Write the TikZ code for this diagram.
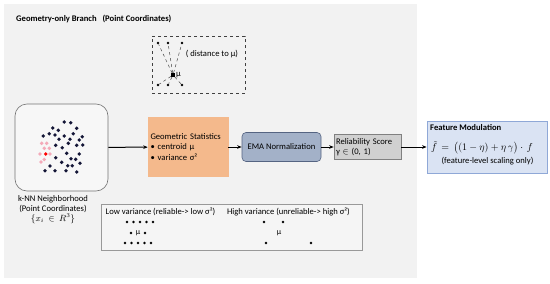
\documentclass[tikz,border=0pt]{standalone}
\usepackage{fontspec}
\setmainfont{Carlito}
\usetikzlibrary{arrows.meta, positioning}
\definecolor{gbpanel}{RGB}{242,242,242}
\definecolor{gbgeo}{RGB}{244,185,140}
\definecolor{gbema}{RGB}{163,177,200}
\definecolor{gbemaline}{RGB}{85,100,130}
\definecolor{gbrel}{RGB}{208,208,208}
\definecolor{gbfeat}{RGB}{218,227,243}
\definecolor{gbfeatline}{RGB}{143,168,215}
\definecolor{gbdot}{RGB}{20,22,55}
\definecolor{gbpink}{RGB}{244,170,185}

\begin{document}
\begin{tikzpicture}[
    x=1pt, y=-1pt,
    >={Stealth[length=4.5pt, width=3.6pt]},
    font=\fontsize{8.6}{10.5}\selectfont,
    %% ── node styles ──────────────────────────────────────────────────────────
    stagebox/.style={
        rectangle, draw=#1, line width=0.6pt, inner sep=0pt
    },
    dot/.style={
        circle, fill=#1, inner sep=0pt, minimum size=2.8pt
    },
    cdot/.style={
        circle, fill=gbdot, inner sep=0pt, minimum size=3.8pt
    },
    %% ── edge styles ──────────────────────────────────────────────────────────
    flow/.style={
        ->, draw=black, line width=1pt
    },
    distline/.style={
        draw=black!70, dashed, line width=0.5pt
    },
]

\useasboundingbox (0,0) rectangle (550,284);

%% ── Branch panel ────────────────────────────────────────────────────────────
\fill[gbpanel] (4,4) rectangle (417,278);
\node[font=\fontsize{8.6}{10.5}\selectfont\bfseries, anchor=west, inner sep=0pt]
    (title) at (16,19) {Geometry-only Branch \ \ (Point Coordinates)};

%% ─────────────────────────────────────────────────────────────────────────────
%% Distance sketch (dashed inset)
%% ─────────────────────────────────────────────────────────────────────────────
\node[draw=black!75, dashed, line width=0.6pt, minimum width=93pt,
      minimum height=57pt] (distbox) at (198.5,64.5) {};

\node[rectangle, fill=black, inner sep=0pt, minimum size=3.8pt] (cen) at (173,75) {};
\node[anchor=west, inner sep=1pt] (cenlbl) at (175,75) {μ};

\node[dot=black] (q1) at (158,43) {};
\node[dot=black] (q2) at (168,43) {};
\node[dot=black] (q3) at (182,43) {};
\node[dot=black] (q4) at (158,85) {};
\node[dot=black] (q5) at (168,85) {};
\node[dot=black] (q6) at (182,85) {};

\draw[distline] (cen) -- (q1);
\draw[distline] (cen) -- (q2);
\draw[distline] (cen) -- (q3);
\draw[distline] (cen) -- (q4);
\draw[distline] (cen) -- (q5);
\draw[distline] (cen) -- (q6);

\node[inner sep=0pt] (distlbl) at (212,54) {( distance to μ)};

%% ─────────────────────────────────────────────────────────────────────────────
%% Main pipeline
%% ─────────────────────────────────────────────────────────────────────────────
\node[draw=black!55, fill=white!97!black, line width=0.6pt, rounded corners=12pt,
      minimum width=93pt, minimum height=87pt] (nbhd) at (61.5,147.5) {};

%% neighbour cloud
\foreach \px/\py in {64.3/122,70.7/122.7,52.7/128,58.3/130.3,76.7/128.3,
    43.3/136,49.3/133.7,55/135,64.3/136,73.3/133.7,82.3/136.7,
    59/139.3,70/139.3,79.3/140,55.7/145.3,62.3/147.7,68.3/143.3,
    76.7/145.3,82.7/145,66.7/153.3,79.3/154,55.7/157.7,61.7/162.3,
    71/158.7,75.7/159.3,50/166,67.7/165.7,72.3/165.7,80/163.3,
    45/170.7,55/170.7,66/170.7,76.7/172}
    \node[cdot] at (\px,\py) {};
\foreach \px/\py in {41.7/143.3,46.7/143.3,44.3/148.3,49.3/148.3,
    40/154,50/154,41/162,44.3/159.5}
    \node[cdot, fill=gbpink] at (\px,\py) {};
\node[cdot, fill=red] (query) at (45.7,154) {};

\node[align=center, inner sep=0pt, font=\fontsize{8.6}{10}\selectfont] (nbhdlbl)
    at (53,209.5) {k-NN Neighborhood\\(Point Coordinates)\\$\{x_i\ \in\ R^3\}$};

\node[stagebox=gbgeo, fill=gbgeo, minimum width=80pt, minimum height=59pt,
      text width=75pt, align=left] (geo) at (188,147)
    {Geometric Statistics\\• centroid μ\\• variance σ²};

\node[stagebox=gbemaline, fill=gbema, rounded corners=4pt,
      minimum width=79pt, minimum height=29pt] (ema) at (281.5,147)
    {EMA Normalization};

\node[stagebox=black!50, fill=gbrel, minimum width=67pt, minimum height=25pt,
      text width=63pt, align=left, font=\fontsize{8.6}{10}\selectfont] (rel)
    at (367.5,147) {Reliability Score\\γ $\in$ (0, 1)};

\node[stagebox=gbfeatline, fill=gbfeat, line width=0.8pt,
      minimum width=120pt, minimum height=52pt] (featmod) at (487,147) {};
\node[font=\fontsize{8.6}{10.5}\selectfont\bfseries, anchor=west, inner sep=0pt]
    (feattitle) at (430,128) {Feature Modulation};
\node[font=\fontsize{10}{11}\selectfont, inner sep=0pt] (featformula) at (482,148)
    {$\tilde f\,=\,\bigl((1-\eta)+\eta\,\gamma\bigr)\cdot\,f$};
\node[inner sep=0pt] (featnote) at (487.5,161.5) {(feature-level scaling only)};

\draw[flow] (nbhd) -- (geo);
\draw[flow] (geo) -- (ema);
\draw[flow] (ema) -- (rel);
\draw[flow] (rel) -- (featmod);

%% ─────────────────────────────────────────────────────────────────────────────
%% Variance legend
%% ─────────────────────────────────────────────────────────────────────────────
\node[draw=black!40, fill=white!96!black, line width=0.6pt,
      minimum width=261pt, minimum height=46pt] (varbox) at (231.5,227) {};

\node[inner sep=0pt] (lowlbl) at (160.5,212) {Low variance (reliable-> low σ²)};
\node[inner sep=0pt] (highlbl) at (288.5,212) {High variance (unreliable-> high σ²)};

%% low variance: tight cluster
\foreach \px in {127,133.5,140,146.5,153}
    \node[dot=black] at (\px,222) {};
\node[dot=black] (lowl) at (131,233) {};
\node[font=\fontsize{8}{8}\selectfont, inner sep=0pt] (lowmu) at (138,233) {μ};
\node[dot=black] (lowr) at (145,233) {};
\foreach \px in {125,131.5,138,144.5,151}
    \node[dot=black] at (\px,243) {};

%% high variance: spread out
\node[dot=black] (hi1) at (264,222) {};
\node[dot=black] (hi2) at (283,222) {};
\node[font=\fontsize{8}{8}\selectfont, inner sep=0pt] (highmu) at (279,233) {μ};
\node[dot=black] (hi3) at (266,243) {};
\node[dot=black] (hi4) at (311,243) {};

\end{tikzpicture}
\end{document}
